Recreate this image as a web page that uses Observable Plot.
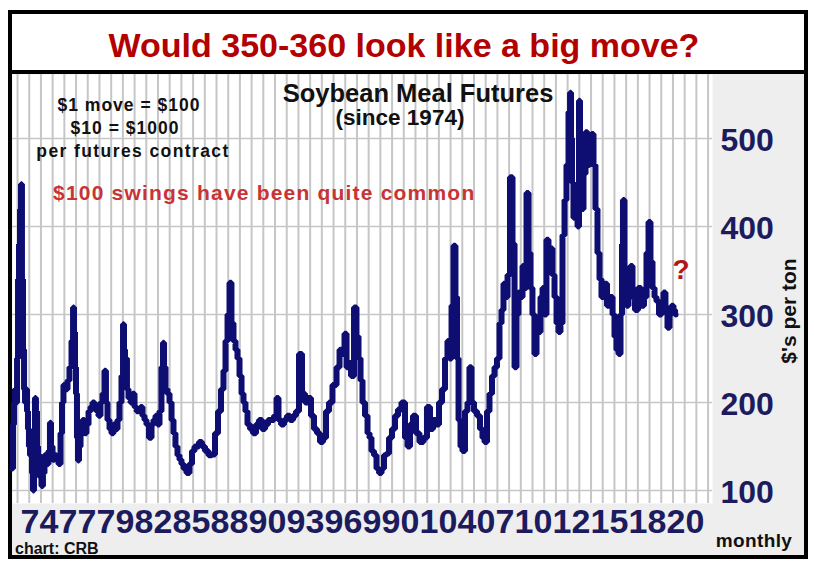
<!DOCTYPE html>
<html><head><meta charset="utf-8">
<script src="https://cdn.jsdelivr.net/npm/d3@7"></script>
<script src="https://cdn.jsdelivr.net/npm/@observablehq/plot@0.6"></script>
<style>
body{margin:0;background:#fff;}
#wrap{position:relative;width:814px;height:569px;overflow:hidden;font-family:"Liberation Sans",Arial,sans-serif;}
.abs{position:absolute;}
</style></head><body>
<div id="wrap">
  <div class="abs" style="left:8px;top:10px;width:800px;height:549px;box-sizing:border-box;border:4px solid #000;background:#eeeeee"></div>
  <div class="abs" style="left:12px;top:14px;width:792px;height:56px;background:#fff;border-bottom:4px solid #000"></div>
  <div id="main" class="abs" style="left:0;top:0"></div>
  <div id="xaxis" class="abs" style="left:13px;top:508px"></div>
</div>
<script>
// ---- data: [year, $ per ton] ----
const meal1970s = [
[1973.00,125],[1973.07,175],[1973.14,200],[1973.21,215],[1973.29,200],[1973.36,250],[1973.43,340],[1973.50,380],[1973.57,420],[1973.64,448],[1973.71,340],[1973.79,260],[1973.86,215],[1973.93,200],
[1974.00,215],[1974.07,190],[1974.14,170],[1974.21,150],[1974.29,140],[1974.36,160],[1974.43,120],[1974.50,100],[1974.57,120],[1974.64,205],[1974.71,190],[1974.79,150],[1974.86,130],[1974.93,140],
[1975.00,115],[1975.14,105],[1975.21,120],[1975.36,140],[1975.50,130],[1975.64,145],[1975.71,177],[1975.79,150],[1975.93,135],
[1976.07,140],[1976.21,135],[1976.36,130],[1976.50,165],[1976.57,200],[1976.71,220],[1976.86,215],
[1977.00,225],[1977.14,240],[1977.29,270],[1977.36,308],[1977.43,280],[1977.50,240],[1977.57,210],[1977.64,160],[1977.71,134],[1977.79,150],[1977.93,170],
[1978.07,180],[1978.21,165],[1978.36,175],[1978.50,190],[1978.64,195],[1978.79,200],[1978.93,195],
[1979.07,190],[1979.21,185],[1979.36,200],[1979.50,210],[1979.64,236],[1979.71,200],[1979.86,180]
];
const meal1980s = [
[1980.00,170],[1980.14,165],[1980.29,175],[1980.43,170],[1980.57,180],[1980.71,200],[1980.86,230],[1980.93,289],
[1981.00,260],[1981.07,240],[1981.14,250],[1981.21,215],[1981.36,205],[1981.50,200],[1981.64,210],[1981.79,195],[1981.93,190],
[1982.07,190],[1982.21,195],[1982.36,185],[1982.50,180],[1982.64,175],[1982.86,160],
[1983.00,175],[1983.14,180],[1983.29,185],[1983.43,175],[1983.57,190],[1983.71,240],[1983.79,268],[1983.86,240],
[1984.00,215],[1984.14,210],[1984.29,200],[1984.43,180],[1984.57,165],[1984.71,150],[1984.86,140],
[1985.00,135],[1985.14,130],[1985.29,125],[1985.57,120],[1985.71,130],[1985.93,145],
[1986.07,150],[1986.21,150],[1986.43,155],[1986.64,150],[1986.86,145],
[1987.14,140],[1987.36,141],[1987.57,165],[1987.79,190],
[1988.00,215],[1988.14,236],[1988.29,270],[1988.43,300],[1988.57,336],[1988.71,290],[1988.86,270],
[1989.00,260],[1989.14,250],[1989.29,230],[1989.43,210],[1989.57,200],[1989.71,190],[1989.86,175]
];
const meal1990s = [
[1990.07,170],[1990.29,165],[1990.50,175],[1990.71,180],[1990.93,170],
[1991.14,175],[1991.36,180],[1991.57,180],[1991.79,185],[1991.93,205],
[1992.07,180],[1992.29,175],[1992.50,180],[1992.71,185],[1992.93,180],
[1993.14,185],[1993.36,190],[1993.57,255],[1993.79,210],
[1994.00,200],[1994.21,205],[1994.43,185],[1994.64,170],[1994.86,165],
[1995.07,155],[1995.29,160],[1995.50,190],[1995.71,200],
[1996.00,220],[1996.29,240],[1996.43,260],[1996.64,255],[1996.79,278],[1996.93,240],
[1997.07,245],[1997.29,230],[1997.50,308],[1997.64,275],[1997.79,250],[1997.93,225],
[1998.07,200],[1998.29,185],[1998.43,165],[1998.57,160],[1998.71,145],[1998.93,140],
[1999.07,125],[1999.29,120],[1999.43,125],[1999.64,140],[1999.79,142]
];
const meal2000s = [
[2000.00,160],[2000.21,170],[2000.43,185],[2000.64,192],[2000.93,200],
[2001.14,160],[2001.29,150],[2001.50,175],[2001.71,185],[2001.93,165],
[2002.21,155],[2002.50,160],[2002.71,195],[2002.93,170],
[2003.14,180],[2003.36,175],[2003.57,200],[2003.79,215],
[2004.00,250],[2004.14,270],[2004.29,250],[2004.43,310],[2004.57,378],[2004.71,320],[2004.79,250],[2004.93,180],
[2005.07,150],[2005.21,145],[2005.43,190],[2005.57,200],[2005.71,240],[2005.86,200],
[2006.07,190],[2006.29,185],[2006.50,170],[2006.64,160],[2006.79,155],
[2007.00,190],[2007.14,210],[2007.36,230],[2007.50,240],[2007.71,250],[2007.86,290],
[2008.00,305],[2008.14,335],[2008.29,320],[2008.43,345],[2008.64,456],[2008.79,380],[2008.93,240],
[2009.07,300],[2009.21,325],[2009.36,320],[2009.50,355],[2009.64,330],[2009.79,438],[2009.93,370]
];
const meal2010s = [
[2010.07,330],[2010.21,300],[2010.36,255],[2010.50,290],[2010.64,280],[2010.79,320],[2010.93,330],
[2011.07,300],[2011.21,385],[2011.36,360],[2011.50,375],[2011.64,345],[2011.79,320],[2011.93,290],
[2012.07,280],[2012.21,290],[2012.36,390],[2012.50,430],[2012.64,470],[2012.79,530],[2012.86,552],[2012.93,500],
[2013.00,450],[2013.14,410],[2013.29,430],[2013.43,400],[2013.50,543],[2013.57,470],[2013.71,420],[2013.86,460],
[2014.00,507],[2014.14,470],[2014.29,500],[2014.43,505],[2014.57,470],[2014.71,420],[2014.86,370],
[2015.00,340],[2015.14,320],[2015.36,335],[2015.57,310],[2015.79,320],[2015.93,300],
[2016.07,275],[2016.21,260],[2016.36,255],[2016.50,300],[2016.57,380],[2016.64,430],[2016.79,340],[2016.93,310],
[2017.07,330],[2017.21,355],[2017.36,320],[2017.57,305],[2017.79,330],
[2018.00,310],[2018.21,320],[2018.36,370],[2018.50,405],[2018.64,360],[2018.79,330],[2018.93,320],
[2019.07,315],[2019.29,300],[2019.43,310],[2019.57,325],[2019.71,305],[2019.86,285],
[2020.00,300],[2020.14,310],[2020.29,305],[2020.36,300]
];
const xLabels = ["74","77","79","82","85","88","90","93","96","99","01","04","07","10","12","15","18","20"];
const yTicks = [100, 200, 300, 400, 500];
const gridStart = 1973.36, gridStep = 0.836, gridCount = 60;

// ---- chart ----
const FONT = '"Liberation Sans", Arial, sans-serif';
const NAVY = "#0d0d72";
const TICKC = "#1b1b5e";
const GRID = "#c6c6c6";

const data = [...meal1970s, ...meal1980s, ...meal1990s, ...meal2000s, ...meal2010s]
  .map(([year, price]) => ({year, price}));
const gridYears = d3.range(gridCount).map(k => gridStart + k * gridStep);

const main = Plot.plot({
  width: 814, height: 569,
  marginTop: 74, marginRight: 102, marginBottom: 66, marginLeft: 12,
  x: {domain: [1973, 2023], axis: null},
  y: {domain: [85.2, 572.7], axis: null},
  style: {background: "transparent", fontFamily: FONT, overflow: "visible"},
  marks: [
    Plot.frame({fill: "#ffffff", stroke: "none"}),
    Plot.gridX(gridYears, {stroke: GRID, strokeOpacity: 1, strokeWidth: 2}),
    Plot.gridY(yTicks, {stroke: GRID, strokeOpacity: 1, strokeWidth: 1.5}),
    Plot.line(data, {x: "year", y: "price", stroke: NAVY, strokeWidth: 6, curve: "step", strokeLinejoin: "miter"}),
    Plot.axisY(yTicks, {anchor: "right", tickSize: 0, tickPadding: 8, fontSize: 32, fontWeight: "bold", color: TICKC, dy: 2, label: null})
  ]
});
document.getElementById("main").append(main);

const xAxis = Plot.plot({
  width: 698, height: 40,
  marginTop: 0, marginBottom: 40, marginLeft: 0, marginRight: 0,
  x: {type: "band", domain: xLabels, padding: 0},
  style: {background: "transparent", fontFamily: FONT, overflow: "visible"},
  marks: [Plot.axisX({anchor: "bottom", tickSize: 0, tickPadding: 0, fontSize: 34, fontWeight: "bold", color: TICKC, label: null})]
});
document.getElementById("xaxis").append(xAxis);

// ---- annotations ----
const notes = [
  {t: "Would 350-360 look like a big move?", x: 404, y: 57, s: 34, c: "#b30000", a: "middle"},
  {t: "Soybean Meal Futures", x: 418, y: 102, s: 25.5, c: "#111", a: "middle"},
  {t: "(since 1974)", x: 400, y: 125, s: 22.5, c: "#111", a: "middle"},
  {t: "$1 move = $100", x: 129, y: 111, s: 17.5, c: "#111", a: "middle", ls: 1},
  {t: "$10 = $1000", x: 125, y: 134, s: 17.5, c: "#111", a: "middle", ls: 1},
  {t: "per futures contract", x: 133, y: 157, s: 17.5, c: "#111", a: "middle", ls: 1.4},
  {t: "$100 swings have been quite common", x: 53, y: 200, s: 21, c: "#c83434", a: "start", ls: 1.2},
  {t: "?", x: 681, y: 279, s: 28, c: "#b01818", a: "middle"},
  {t: "chart: CRB", x: 15, y: 554, s: 16, c: "#111", a: "start"},
  {t: "monthly", x: 754, y: 547, s: 19, c: "#111", a: "middle", ls: 0.4}
];
const svg = d3.select("#wrap").append("svg")
  .attr("width", 814).attr("height", 569)
  .style("position", "absolute").style("left", 0).style("top", 0)
  .style("font-family", FONT).style("font-weight", "bold");
svg.selectAll("text.note").data(notes).join("text").attr("class", "note")
  .attr("x", d => d.x).attr("y", d => d.y)
  .attr("font-size", d => d.s).attr("fill", d => d.c)
  .attr("text-anchor", d => d.a)
  .attr("letter-spacing", d => d.ls || 0)
  .text(d => d.t);
svg.append("text")
  .attr("transform", "translate(796,311) rotate(-90)")
  .attr("text-anchor", "middle").attr("font-size", 21).attr("fill", "#111")
  .text("$'s per ton");
</script>
</body></html>
